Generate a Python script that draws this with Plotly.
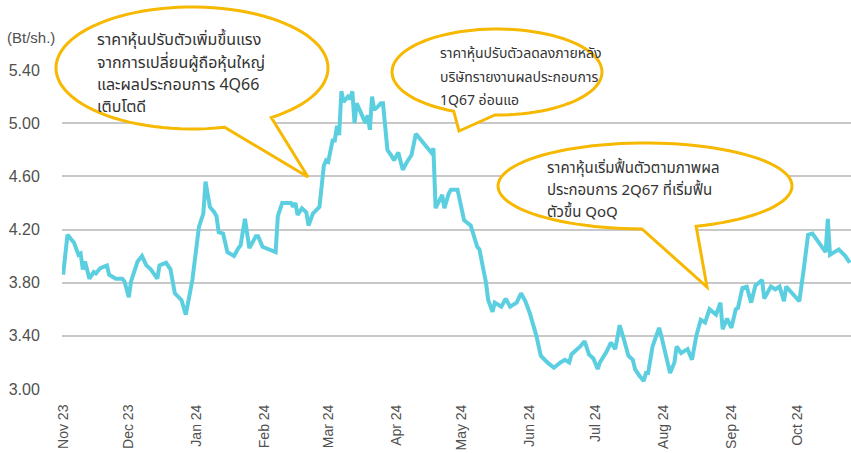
import math
import plotly.graph_objects as go

# ---- data ----
dates = [
    "2023-11-01", "2023-11-03", "2023-11-06", "2023-11-08", "2023-11-09", "2023-11-10",
    "2023-11-11", "2023-11-13", "2023-11-15", "2023-11-16", "2023-11-18", "2023-11-21",
    "2023-11-22", "2023-11-25", "2023-11-28", "2023-11-29", "2023-12-01", "2023-12-02",
    "2023-12-05", "2023-12-07", "2023-12-09", "2023-12-11", "2023-12-14", "2023-12-15",
    "2023-12-18", "2023-12-20", "2023-12-22", "2023-12-25", "2023-12-27", "2023-12-30",
    "2024-01-02", "2024-01-04", "2024-01-05", "2024-01-07", "2024-01-09", "2024-01-10",
    "2024-01-11", "2024-01-13", "2024-01-15", "2024-01-18", "2024-01-20", "2024-01-21",
    "2024-01-23", "2024-01-24", "2024-01-25", "2024-01-28", "2024-01-29", "2024-01-31",
    "2024-02-03", "2024-02-06", "2024-02-07", "2024-02-09", "2024-02-13", "2024-02-14",
    "2024-02-15", "2024-02-16", "2024-02-18", "2024-02-20", "2024-02-21", "2024-02-23",
    "2024-02-26", "2024-02-28", "2024-02-29", "2024-03-01", "2024-03-03", "2024-03-04",
    "2024-03-05", "2024-03-06", "2024-03-07", "2024-03-08", "2024-03-10", "2024-03-11",
    "2024-03-12", "2024-03-13", "2024-03-14", "2024-03-16", "2024-03-18", "2024-03-19",
    "2024-03-20", "2024-03-21", "2024-03-22", "2024-03-24", "2024-03-25", "2024-03-26",
    "2024-03-27", "2024-03-28", "2024-03-30", "2024-03-31", "2024-04-02", "2024-04-04",
    "2024-04-06", "2024-04-08", "2024-04-10", "2024-04-13", "2024-04-15", "2024-04-17",
    "2024-04-18", "2024-04-19", "2024-04-22", "2024-04-23", "2024-04-25", "2024-04-26",
    "2024-04-29", "2024-05-02", "2024-05-05", "2024-05-08", "2024-05-09", "2024-05-12",
    "2024-05-13", "2024-05-15", "2024-05-16", "2024-05-19", "2024-05-21", "2024-05-23",
    "2024-05-26", "2024-05-28", "2024-05-30", "2024-06-01", "2024-06-04", "2024-06-06",
    "2024-06-09", "2024-06-12", "2024-06-15", "2024-06-17", "2024-06-19", "2024-06-20",
    "2024-06-24", "2024-06-26", "2024-06-28", "2024-06-30", "2024-07-02", "2024-07-03",
    "2024-07-06", "2024-07-08", "2024-07-10", "2024-07-12", "2024-07-14", "2024-07-16",
    "2024-07-18", "2024-07-19", "2024-07-21", "2024-07-23", "2024-07-24", "2024-07-25",
    "2024-07-27", "2024-07-30", "2024-07-31", "2024-08-02", "2024-08-04", "2024-08-06",
    "2024-08-07", "2024-08-09", "2024-08-12", "2024-08-14", "2024-08-16", "2024-08-18",
    "2024-08-20", "2024-08-22", "2024-08-24", "2024-08-25", "2024-08-27", "2024-08-28",
    "2024-08-30", "2024-09-01", "2024-09-03", "2024-09-04", "2024-09-06", "2024-09-08",
    "2024-09-10", "2024-09-12", "2024-09-15", "2024-09-16", "2024-09-19", "2024-09-21",
    "2024-09-23", "2024-09-25", "2024-09-26", "2024-09-29", "2024-10-02", "2024-10-04",
    "2024-10-06", "2024-10-08", "2024-10-11", "2024-10-14", "2024-10-15", "2024-10-16",
    "2024-10-18", "2024-10-20", "2024-10-23", "2024-10-25",
]
prices = [
    3.86, 4.16, 4.10, 4.01, 4.02, 3.90,
    3.96, 3.83, 3.88, 3.87, 3.91, 3.93,
    3.86, 3.83, 3.83, 3.81, 3.69, 3.81,
    3.96, 4.00, 3.93, 3.90, 3.83, 3.93,
    3.95, 3.90, 3.72, 3.67, 3.56, 3.82,
    4.22, 4.32, 4.56, 4.37, 4.33, 4.30,
    4.18, 4.17, 4.03, 4.00, 4.06, 4.08,
    4.28, 4.17, 4.06, 4.15, 4.15, 4.07,
    4.05, 4.03, 4.30, 4.40, 4.40, 4.37,
    4.40, 4.31, 4.36, 4.33, 4.23, 4.32,
    4.37, 4.68, 4.72, 4.71, 4.87, 4.87,
    4.98, 4.91, 5.24, 5.16, 5.20, 5.18,
    5.24, 5.00, 5.15, 5.08, 5.00, 5.06,
    4.95, 5.20, 5.10, 5.13, 5.15, 5.15,
    4.95, 4.80, 4.75, 4.72, 4.78, 4.65,
    4.71, 4.76, 4.92, 4.86, 4.81, 4.78,
    4.81, 4.36, 4.46, 4.36, 4.47, 4.50,
    4.50, 4.27, 4.23, 4.07, 4.05, 3.80,
    3.67, 3.58, 3.65, 3.62, 3.68, 3.62,
    3.65, 3.72, 3.66, 3.57, 3.40, 3.25,
    3.20, 3.16, 3.20, 3.22, 3.20, 3.26,
    3.32, 3.36, 3.26, 3.23, 3.15, 3.20,
    3.28, 3.35, 3.30, 3.48, 3.37, 3.25,
    3.22, 3.15, 3.10, 3.06, 3.12, 3.12,
    3.32, 3.46, 3.40, 3.25, 3.12, 3.20,
    3.32, 3.27, 3.30, 3.22, 3.40, 3.52,
    3.50, 3.60, 3.57, 3.56, 3.65, 3.45,
    3.53, 3.46, 3.60, 3.61, 3.76, 3.77,
    3.65, 3.78, 3.82, 3.68, 3.77, 3.75,
    3.77, 3.66, 3.77, 3.72, 3.66, 3.90,
    4.16, 4.17, 4.10, 4.03, 4.28, 4.01,
    4.03, 4.05, 4.00, 3.95,
]
y_ticks = [3.00, 3.40, 3.80, 4.20, 4.60, 5.00, 5.40]
x_ticks = ["2023-11-01", "2023-12-01", "2024-01-01", "2024-02-01", "2024-03-01", "2024-04-01",
           "2024-05-01", "2024-06-01", "2024-07-01", "2024-08-01", "2024-09-01", "2024-10-01"]
x_tick_labels = ["Nov 23", "Dec 23", "Jan 24", "Feb 24", "Mar 24", "Apr 24",
                 "May 24", "Jun 24", "Jul 24", "Aug 24", "Sep 24", "Oct 24"]
callout_lines = [
    ["ราคาหุ้นปรับตัวเพิ่มขึ้นแรง", "จากการเปลี่ยนผู้ถือหุ้นใหญ่", "และผลประกอบการ 4Q66", "เติบโตดี"],
    ["ราคาหุ้นปรับตัวลดลงภายหลัง", "บริษัทรายงานผลประกอบการ", "1Q67 อ่อนแอ"],
    ["ราคาหุ้นเริ่มฟื้นตัวตามภาพผล", "ประกอบการ 2Q67 ที่เริ่มฟื้น", "ตัวขึ้น QoQ"],
]
unit_label = "(Bt/sh.)"

# ---- layout geometry (pixels) ----
W, H = 851, 453
ML, MR, MT, MB = 62, 0, 70, 64
PW, PH = W - ML - MR, H - MT - MB


def px(x):
    return (x - ML) / PW


def py(y):
    return (H - MB - y) / PH


def bubble_path(cx, cy, rx, ry, base_l, tip, base_r, n=90):
    a0 = math.atan2((base_l[1] - cy) / ry, (base_l[0] - cx) / rx)
    a1 = math.atan2((base_r[1] - cy) / ry, (base_r[0] - cx) / rx)
    while a1 <= a0:
        a1 += 2 * math.pi
    pts = []
    for i in range(n + 1):
        a = a0 + (a1 - a0) * i / n
        pts.append((cx + rx * math.cos(a), cy + ry * math.sin(a)))
    pts.append(tip)
    return "M " + " L ".join(f"{px(x):.5f},{py(y):.5f}" for x, y in pts) + " Z"


bubbles = [
    dict(cx=192, cy=68, rx=136, ry=61, bl=(225, 128), tip=(308, 177), br=(272, 118),
         tx=95, ty=[40, 63, 85, 107], size=16),
    dict(cx=497, cy=72, rx=105, ry=43, bl=(455, 110), tip=(459, 131), br=(495, 115),
         tx=438, ty=[53, 77, 100], size=14),
    dict(cx=645, cy=186, rx=147, ry=43, bl=(642, 228), tip=(707, 287), br=(697, 227),
         tx=545, ty=[168, 190, 212], size=15),
]

THAI_FONT = "Noto Sans Thai, Noto Sans, sans-serif"

fig = go.Figure()
fig.add_trace(go.Scatter(
    x=dates, y=prices, mode="lines",
    line=dict(color="#5BCFE0", width=4),
    hoverinfo="skip", showlegend=False,
))

shapes = []
annotations = []
for b, lines in zip(bubbles, callout_lines):
    shapes.append(dict(
        type="path", xref="paper", yref="paper", layer="above",
        path=bubble_path(b["cx"], b["cy"], b["rx"], b["ry"], b["bl"], b["tip"], b["br"]),
        fillcolor="white", line=dict(color="#F6B800", width=3),
    ))
    for line_txt, ty in zip(lines, b["ty"]):
        annotations.append(dict(
            text=line_txt, xref="paper", yref="paper", x=px(b["tx"]), y=py(ty),
            xanchor="left", yanchor="middle", align="left", showarrow=False,
            font=dict(family=THAI_FONT, size=b["size"], color="#333333"),
        ))

annotations.append(dict(
    text=unit_label, xref="paper", yref="paper", x=px(5), y=py(38),
    xanchor="left", yanchor="middle", showarrow=False,
    font=dict(family="Arial", size=15, color="#505050"),
))

fig.update_layout(
    width=W, height=H,
    margin=dict(l=ML, r=MR, t=MT, b=MB, pad=0),
    paper_bgcolor="white", plot_bgcolor="white",
    shapes=shapes, annotations=annotations,
    xaxis=dict(
        type="date", range=["2023-10-31 12:00", "2024-10-25 14:00"],
        tickvals=x_ticks, ticktext=x_tick_labels, tickangle=-90,
        ticks="outside", ticklen=9, tickcolor="rgba(0,0,0,0)",
        showgrid=False, zeroline=False, showline=False,
        tickfont=dict(family="Arial", size=14, color="#505050"),
    ),
    yaxis=dict(
        range=[3.0, 5.4], tickvals=y_ticks, ticktext=[f"{v:.2f}" for v in y_ticks],
        ticks="outside", ticklen=18, tickcolor="rgba(0,0,0,0)",
        showgrid=True, gridcolor="#C8C8C8", gridwidth=1.5,
        zeroline=False, showline=False,
        tickfont=dict(family="Arial", size=16, color="#505050"),
    ),
)

fig.write_html("out.html")
